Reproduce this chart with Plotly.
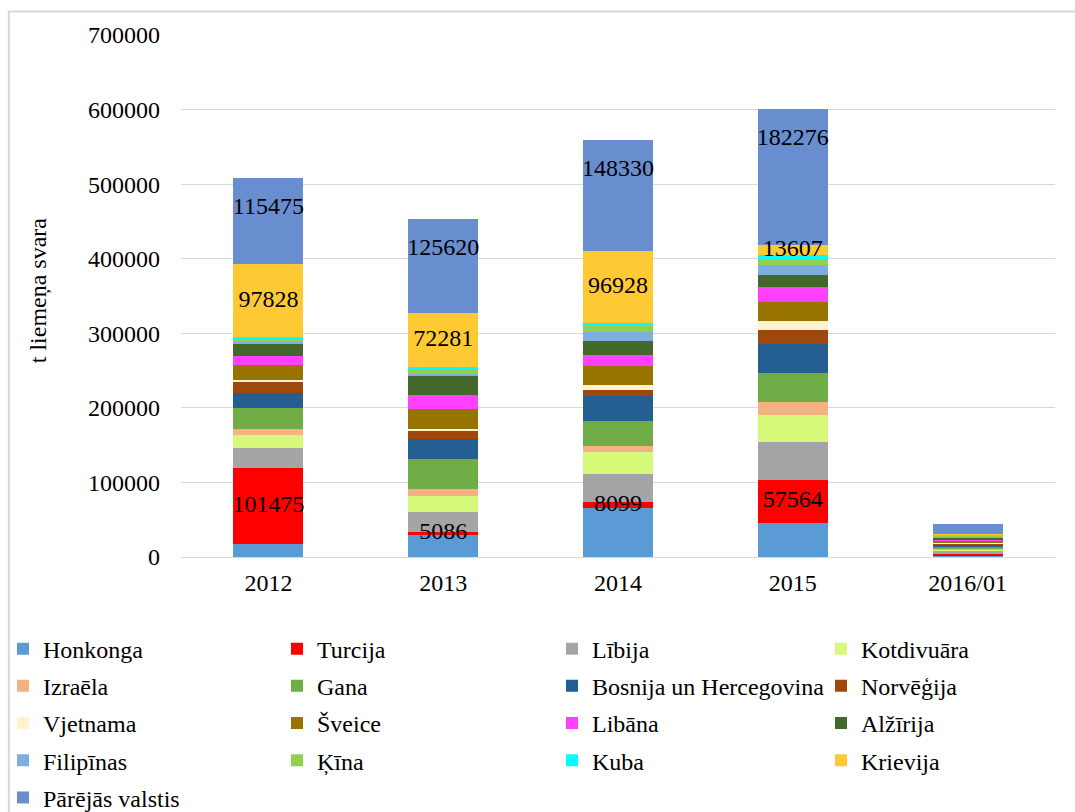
import plotly.graph_objects as go

years = ["2012", "2013", "2014", "2015", "2016/01"]

honkonga = [18000, 29000, 66000, 46000, 1500]
turcija = [101475, 5086, 8099, 57564, 3500]
libija = [27300, 25900, 37500, 50900, 2500]
kotdivuara = [16500, 22300, 29500, 35300, 3000]
izraela = [8500, 8500, 7600, 18300, 1500]
gana = [28600, 41100, 33500, 38400, 2500]
bosnija = [19200, 26400, 33900, 38900, 2000]
norvegija = [15200, 10300, 7600, 19700, 1500]
vjetnama = [3000, 3000, 6700, 11600, 2000]
sveice = [19700, 27200, 25900, 25900, 2000]
libana = [12500, 18300, 15200, 20100, 1500]
alzirija = [16500, 25000, 17900, 15600, 2000]
filipinas = [2000, 3600, 12500, 13900, 1500]
kina = [5000, 7000, 8000, 8000, 2000]
kuba = [1000, 2700, 4000, 4500, 500]
krievija = [97828, 72281, 96928, 13607, 1500]
pareja = [115475, 125620, 148330, 182276, 13000]

# (name, values, colour, label mode)
series = [
    ("Honkonga", honkonga, "#5B9BD5", None),
    ("Turcija", turcija, "#FF0000", "mid"),
    ("Lībija", libija, "#A5A5A5", None),
    ("Kotdivuāra", kotdivuara, "#D6F97A", None),
    ("Izraēla", izraela, "#F4B183", None),
    ("Gana", gana, "#70AD47", None),
    ("Bosnija un Hercegovina", bosnija, "#255E91", None),
    ("Norvēģija", norvegija, "#9E480E", None),
    ("Vjetnama", vjetnama, "#FFF2CC", None),
    ("Šveice", sveice, "#997300", None),
    ("Libāna", libana, "#FF40FF", None),
    ("Alžīrija", alzirija, "#43682B", None),
    ("Filipīnas", filipinas, "#7CAFDD", None),
    ("Ķīna", kina, "#92D050", None),
    ("Kuba", kuba, "#00FFFF", None),
    ("Krievija", krievija, "#FFC933", "mid"),
    ("Pārējās valstis", pareja, "#698ED0", "top"),
]

serif = "Liberation Serif, Times New Roman, serif"
FS = 24
legend_ids = ["legend", "legend2", "legend3", "legend4"]
YMAX = 700000
PLOT_H = 812 - 35 - 255

fig = go.Figure()
base = [0] * len(years)
lab_x, lab_y, lab_t = [], [], []
for k, (name, vals, col, lab) in enumerate(series):
    # legend is laid out in 4 columns, row by row like the original
    fig.add_trace(go.Bar(x=years, y=vals, name=name, legend=legend_ids[k % 4], legendgroup=name,
                         marker=dict(color=col, line=dict(width=0)),
                         hovertemplate=name + ": %{y}<extra></extra>"))
    if lab:
        # no labels on the 2016/01 bar
        for i in range(4):
            lab_x.append(years[i])
            lab_t.append(str(vals[i]))
            if lab == "mid":
                lab_y.append(base[i] + vals[i] / 2)
            else:
                # the top label sits ~30 px under the top of the bar
                lab_y.append(base[i] + vals[i] - 30 * YMAX / PLOT_H)
    base = [b + v for b, v in zip(base, vals)]

# labels as a text trace on top of all the bars
fig.add_trace(go.Scatter(x=lab_x, y=lab_y, text=lab_t, mode="text", textposition="middle center",
                         textfont=dict(family=serif, size=FS, color="black"),
                         showlegend=False, hoverinfo="skip"))

leg = dict(orientation="v", xref="container", yref="container", y=0.2284,
           xanchor="left", yanchor="top", traceorder="grouped", tracegroupgap=3,
           itemwidth=30, font=dict(family=serif, size=FS, color="black"), bgcolor="rgba(0,0,0,0)")
fig.update_layout(
    barmode="stack", bargap=0.6,
    width=1075, height=812,
    margin=dict(l=181, r=20, t=35, b=255, autoexpand=False),
    plot_bgcolor="white", paper_bgcolor="white",
    font=dict(family=serif, size=FS, color="black"),
    legend=dict(leg, x=3 / 1075),
    legend2=dict(leg, x=277 / 1075),
    legend3=dict(leg, x=552 / 1075),
    legend4=dict(leg, x=821 / 1075),
    annotations=[dict(text="t liemeņa svara", xref="paper", yref="paper", x=-0.1636, y=0.511,
                      textangle=-90, showarrow=False, xanchor="center", yanchor="middle",
                      font=dict(family=serif, size=FS, color="black"))],
    shapes=[dict(type="rect", xref="paper", yref="paper", x0=-0.197, x1=1.2, y0=-1.0, y1=1.045,
                 line=dict(color="#D9D9D9", width=2), fillcolor="rgba(0,0,0,0)", layer="below")],
)
fig.update_xaxes(type="category", showline=False, ticks="", tickfont=dict(size=FS), ticklabelstandoff=9)
fig.update_yaxes(range=[0, YMAX], dtick=100000, tickformat="d", showgrid=True,
                 gridcolor="#D9D9D9", gridwidth=1,
                 zeroline=True, zerolinecolor="#D9D9D9", zerolinewidth=1,
                 tickfont=dict(size=FS), ticklabelstandoff=20)

fig.write_html("out.html", config={"displayModeBar": False},
               post_script="document.body.style.margin='0';")
